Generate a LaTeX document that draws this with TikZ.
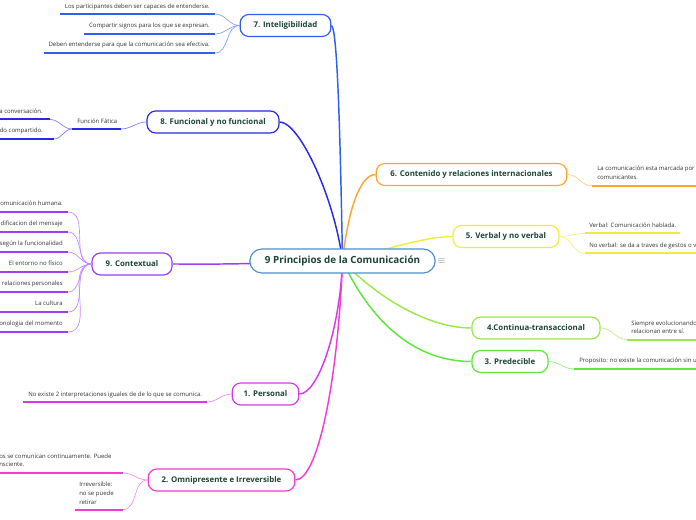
\documentclass[tikz,border=0pt]{standalone}
\usepackage{fontspec}
\setmainfont{Open Sans}
\usetikzlibrary{positioning, backgrounds}
\definecolor{MapRoot}{HTML}{4D8FD1}
\definecolor{MapInk}{HTML}{1B4535}
\definecolor{MapGrey}{HTML}{333333}
\definecolor{MapIcon}{HTML}{7A8A9A}
\definecolor{MapSeven}{HTML}{2F5FF0}
\definecolor{MapEight}{HTML}{2828E6}
\definecolor{MapNine}{HTML}{9B3DF5}
\definecolor{MapOne}{HTML}{D63AE8}
\definecolor{MapTwo}{HTML}{F53CD2}
\definecolor{MapSix}{HTML}{FFA630}
\definecolor{MapFive}{HTML}{EEEE3A}
\definecolor{MapFour}{HTML}{9BE84A}
\definecolor{MapThree}{HTML}{5CE83A}
\tikzset{
    % Node styles
    mainbox/.style={
        rectangle,
        rounded corners=9pt,
        draw=MapRoot,
        fill=white,
        line width=0.9pt,
        minimum height=18pt,
        inner xsep=2pt,
        text=MapInk,
        font=\fontsize{7.4}{8}\selectfont\bfseries
    },
    topicbox/.style={
        rectangle,
        rounded corners=6.5pt,
        fill=white,
        line width=0.9pt,
        minimum height=16.5pt,
        inner xsep=2pt,
        text=MapInk,
        font=\fontsize{5.9}{7}\selectfont\bfseries
    },
    leafnote/.style={
        inner sep=0pt,
        text=MapGrey,
        align=left,
        font=\fontsize{4.5}{6}\selectfont
    },
    % Line styles
    branchline/.style={line width=1.1pt},
    twigline/.style={line width=0.5pt},
    leafline/.style={line width=1.5pt}
}
\begin{document}
\begin{tikzpicture}[x=0.75pt, y=-0.75pt]
    \useasboundingbox (0,0) rectangle (696,520);
    \clip (0,0) rectangle (696,520);

    % Central topic
    \node[mainbox, minimum width=139pt] (root) at (342.5,261) {9 Principios de la Comunicación};
    \node[text=MapIcon, inner sep=0pt, font=\fontsize{7}{7}\selectfont] (menu) at (441.5,261) {$\equiv$};

    % Main topics
    \node[topicbox, draw=MapSeven, minimum width=68pt] (t7) at (285.5,25.5) {7. Inteligibilidad};
    \node[topicbox, draw=MapEight, minimum width=99pt] (t8) at (213,122) {8. Funcional y no funcional};
    \node[topicbox, draw=MapNine, minimum width=60pt] (t9) at (132,264) {9. Contextual};
    \node[topicbox, draw=MapOne, minimum width=50pt] (t1) at (265.5,394) {1. Personal};
    \node[topicbox, draw=MapTwo, minimum width=110pt] (t2) at (221.5,480) {2. Omnipresente e Irreversible};
    \node[topicbox, draw=MapSix, minimum width=143pt] (t6) at (471.5,174.5) {6. Contenido y relaciones internacionales};
    \node[topicbox, draw=MapFive, minimum width=79.5pt] (t5) at (506,236.5) {5. Verbal y no verbal};
    \node[topicbox, draw=MapFour, minimum width=96pt] (t4) at (536,328) {4.Continua-transaccional};
    \node[topicbox, draw=MapThree, minimum width=57pt] (t3) at (510,361.5) {3. Predecible};

    % Leaves of 7
    \node[leafnote, anchor=base east] (l71) at (210,8.5) {Los participantes deben ser capaces de entenderse.};
    \node[leafnote, anchor=base east] (l72) at (210,27.5) {Compartir signos para los que se expresan.};
    \node[leafnote, anchor=base east] (l73) at (210,47) {Deben entenderse para que la comunicación sea efectiva.};
    \coordinate (u71a) at (60,14);  \coordinate (u71) at (215,14);
    \coordinate (u72a) at (84,34);  \coordinate (u72) at (215,34);
    \coordinate (u73a) at (44,53);  \coordinate (u73) at (215,53);
    \draw[leafline, MapSeven] (u71a) -- (u71);
    \draw[leafline, MapSeven] (u72a) -- (u72);
    \draw[leafline, MapSeven] (u73a) -- (u73);
    \draw[twigline, MapSeven!60] (t7.west) to[out=180, in=0] (u71);
    \draw[twigline, MapSeven!60] (t7.west) to[out=180, in=0] (u72);
    \draw[twigline, MapSeven!60] (t7.west) to[out=180, in=0] (u73);

    % Leaves of 8
    \node[leafnote, anchor=base west] (l8) at (77,124) {Función Fática};
    \coordinate (u8a) at (72,129);  \coordinate (u8) at (121,129);
    \draw[leafline, MapEight] (u8a) -- (u8);
    \draw[twigline, MapEight!60] (t8.west) to[out=180, in=0] (u8);
    \node[leafnote, anchor=base east] (l81) at (43,113.5) {a conversación.};
    \node[leafnote, anchor=base east] (l82) at (43,133) {ado compartido.};
    \coordinate (u81a) at (0,119.5);  \coordinate (u81) at (50,119.5);
    \coordinate (u82a) at (0,139);  \coordinate (u82) at (54,139);
    \draw[leafline, MapEight] (u81a) -- (u81);
    \draw[leafline, MapEight] (u82a) -- (u82);
    \draw[twigline, MapEight!60] (u8a) to[out=180, in=0] (u81);
    \draw[twigline, MapEight!60] (u8a) to[out=180, in=0] (u82);

    % Leaves of 9
    \foreach \y/\txt [count=\i] in {212/comunicación humana., 232/dificacion del mensaje,
        252/según la funcionalidad, 272/El entorno no físico, 292/relaciones personales,
        312/La cultura, 332/onologia del momento}{
        \node[leafnote, anchor=base east] (l9\i) at (63,\y-6.5) {\txt};
        \coordinate (u9\i a) at (0,\y);
        \coordinate (u9\i) at (68,\y);
        \draw[leafline, MapNine] (u9\i a) -- (u9\i);
        \draw[twigline, MapNine!60] (t9.west) to[out=180, in=0] (u9\i);
    }

    % Leaves of 1
    \node[leafnote, anchor=base west] (l1) at (28,396) {No existe 2 interpretaciones iguales de de lo que se comunica.};
    \coordinate (u1a) at (23,402);  \coordinate (u1) at (207,402);
    \draw[leafline, MapOne] (u1a) -- (u1);
    \draw[twigline, MapOne!60] (t1.west) to[out=180, in=0] (u1);

    % Leaves of 2 (base = last line)
    \node[leafnote, anchor=base west, font=\fontsize{4.5}{5.3}\selectfont] (l21) at (-1,466) {os se comunican continuamente. Puede\\nsciente.};
    \node[leafnote, anchor=base west, font=\fontsize{4.5}{6.6}\selectfont] (l22) at (79,504) {Irreversible:\\no se puede\\retirar};
    \coordinate (u21a) at (0,473);  \coordinate (u21) at (123,473);
    \coordinate (u22a) at (75,509.5);  \coordinate (u22) at (123,509.5);
    \draw[leafline, MapTwo] (u21a) -- (u21);
    \draw[leafline, MapTwo] (u22a) -- (u22);
    \draw[twigline, MapTwo!60] (t2.west) to[out=180, in=0] (u21);
    \draw[twigline, MapTwo!60] (t2.west) to[out=180, in=0] (u22);

    % Leaves of 6
    \node[leafnote, anchor=base west, font=\fontsize{4.5}{7}\selectfont] (l6) at (597,180) {La comunicación esta marcada por\\comunicantes.};
    \coordinate (u6) at (592,186);  \coordinate (u6b) at (696,186);
    \draw[leafline, MapSix] (u6) -- (u6b);
    \draw[twigline, MapSix!60] (t6.east) to[out=0, in=180] (u6);

    % Leaves of 5
    \node[leafnote, anchor=base west] (l51) at (589,227.5) {Verbal: Comunicación hablada.};
    \node[leafnote, anchor=base west] (l52) at (589,247.5) {No verbal: se da a traves de gestos o v};
    \coordinate (u51) at (585,233.5);  \coordinate (u51b) at (680,233.5);
    \coordinate (u52) at (585,253.5);  \coordinate (u52b) at (696,253.5);
    \draw[leafline, MapFive] (u51) -- (u51b);
    \draw[leafline, MapFive] (u52) -- (u52b);
    \draw[twigline, MapFive!70] (t5.east) to[out=0, in=180] (u51);
    \draw[twigline, MapFive!70] (t5.east) to[out=0, in=180] (u52);

    % Leaves of 4
    \node[leafnote, anchor=base west] (l4) at (631,333.5) {Siempre evolucionando\\relacionan entre sí.};
    \coordinate (u4) at (627,339.5);  \coordinate (u4b) at (696,339.5);
    \draw[leafline, MapFour] (u4) -- (u4b);
    \draw[twigline, MapFour!70] (t4.east) to[out=0, in=180] (u4);

    % Leaves of 3
    \node[leafnote, anchor=base west] (l3) at (579,362.5) {Proposito: no existe la comunicación sin un};
    \coordinate (u3) at (574,369);  \coordinate (u3b) at (696,369);
    \draw[leafline, MapThree] (u3) -- (u3b);
    \draw[twigline, MapThree!70] (t3.east) to[out=0, in=180] (u3);

    % Branches from the centre
    \begin{scope}[on background layer]
        \draw[branchline, MapSeven] (root.center) .. controls (340,120) and (337,28) .. (t7.east);
        \draw[branchline, MapEight] (root.center) .. controls (335,200) and (300,122) .. (t8.east);
        \draw[branchline, MapNine] (root.center) .. controls (220,265) and (200,264) .. (t9.east);
        \draw[branchline, MapOne] (root.center) .. controls (340,330) and (318,394) .. (t1.east);
        \draw[branchline, MapTwo] (root.center) .. controls (338,380) and (318,480) .. (t2.east);
        \draw[branchline, MapSix] (root.center) .. controls (348,210) and (360,174.5) .. (t6.west);
        \draw[branchline, MapFive] (root.center) .. controls (400,245) and (430,236.5) .. (t5.west);
        \draw[branchline, MapFour] (root.center) .. controls (380,300) and (430,328) .. (t4.west);
        \draw[branchline, MapThree] (root.center) .. controls (380,340) and (430,361.5) .. (t3.west);
    \end{scope}
\end{tikzpicture}
\end{document}
